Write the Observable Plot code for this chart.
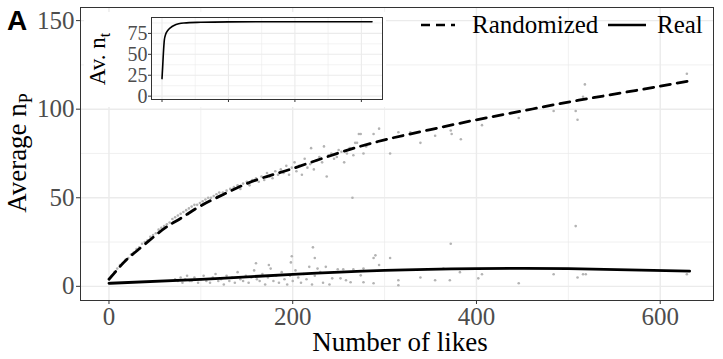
<!DOCTYPE html>
<html><head><meta charset="utf-8">
<script src="https://cdn.jsdelivr.net/npm/d3@7"></script>
<script src="https://cdn.jsdelivr.net/npm/@observablehq/plot@0.6"></script>
<style>
body{margin:0;background:#fff;}
#wrap{position:relative;width:723px;height:359px;}
#inset{position:absolute;left:84px;top:12px;}
</style></head>
<body><div id="wrap"><div id="main"></div><div id="inset"></div></div>
<script>
// ticks
const xTicks = [0, 200, 400, 600];
const xMinor = [100, 300, 500];
const yTicks = [0, 50, 100, 150];
const yMinor = [25, 75, 125];
const insetXTicks = [0, 1000, 2000, 3000];
const insetXMinor = [500, 1500, 2500];
const insetYTicks = [0, 25, 50, 75];
const insetYMinor = [12.5, 37.5, 62.5, 87.5];

// fitted curves
const randCurveX = [0,10,20,35,50,64,80,100,125,150,175,200,250,300,350,400,450,500,550,600,632];
const randCurveY = [4,10,15.5,22,28.5,34,39,45.5,52,58,62.5,66.5,75.3,82.7,88.5,94,99,104,108.5,113,116];
const realCurveX = [0,100,200,300,400,500,632];
const realCurveY = [1.7,3.9,6.8,9,10,10,8.6];

// inset curve
const insetX = [0,10,20,35,55,86,130,180,250,330,586,1000,2000,3160];
const insetY = [21,35,50,67,74,78.5,82,84.5,86.5,87.5,88.3,88.8,89,89];

// scatter: randomized
const randPts = [[3,6],[6,8],[9,10],[12,12],[15,13],[18,15],[21,16],[24,18],[27,19],[30,21],[33,22],[36,24],[39,25],[42,26],[45,28],[48,29],[51,30],[54,32],[57,33],[60,34],[63,35],[66,36],[69,38],[72,39],[75,40],[78,41],[81,42],[84,43],[87,44],[90,45],[93,46],[96,46],[99,47],[102,48],[105,49],[108,50],[111,50],[114,51],[117,52],[120,53],[124,53],[128,54],[132,55],[136,56],[140,57],[143,55],[146,58],[150,59],[153,57],[156,60],[160,61],[163,59],[166,62],[169,60],[172,64],[175,62],[178,61],[181,65],[184,63],[187,66],[190,64],[193,68],[196,63],[199,67],[202,70],[204,65],[207,68],[210,63],[213,72],[216,67],[219,69],[220,78],[223,66],[226,71],[229,73],[232,70],[234,79],[237,62],[239,74],[242,75],[245,72],[248,73],[250,77],[253,76],[256,70],[259,75],[262,78],[265,50],[266,74],[268,81],[270,81],[272,86],[274,86],[277,75],[280,79],[288,86],[294,89],[306,75],[315,87],[328,87],[339,81],[355,85],[372,88],[373,86],[383,83],[406,91],[446,95],[484,99],[508,99],[510,94],[516,107],[518,114],[629,120]];
// scatter: real
const realPts = [[72,4],[75,3],[78,5],[80,2],[83,4],[85,6],[88,3],[90,3],[93,5],[97,2],[100,4],[103,6],[106,3],[110,2],[113,5],[116,7],[119,3],[122,4],[125,1],[128,6],[131,3],[134,5],[137,2],[140,8],[143,4],[146,3],[149,6],[152,2],[155,5],[158,9],[160,13],[161,4],[164,3],[167,7],[170,1],[173,5],[174,12],[176,10],[179,3],[182,6],[185,2],[188,8],[191,4],[194,1],[197,6],[198,13.5],[199,17],[200,3],[203,9],[206,5],[209,2],[212,7],[215,4],[218,11],[221,1],[222,22],[224,6],[224,16],[227,10],[230,8],[233,2],[236,11],[240,1],[243,4.5],[249,9.6],[252,4.5],[255,9.6],[258,3.4],[263,2.3],[266,9.6],[274,6.2],[277,10],[277,2.3],[288,16],[288,1.7],[290,17.5],[294,12],[306,16],[315,3.4],[315,0.6],[339,5],[355,3.4],[364,10],[371,3.4],[372,24],[382,8],[402,4.5],[406,6.8],[446,1.7],[484,6.8],[508,34],[510,5],[516,6.8],[519,6.8],[629,6.8]];

const randCurve = randCurveX.map((x,i)=>({x, y: randCurveY[i]}));
const realCurve = realCurveX.map((x,i)=>({x, y: realCurveY[i]}));
const insetCurve = insetX.map((x,i)=>({x, y: insetY[i]}));
const rand = randPts.map(([x,y])=>({x,y}));
const real = realPts.map(([x,y])=>({x,y}));

const FONT = "Liberation Serif, Times New Roman, serif";
const GRID = "#ebebeb";

const chart = Plot.plot({
  width: 723, height: 359,
  marginLeft: 80, marginRight: 10, marginTop: 7, marginBottom: 59,
  x: {domain: [-31, 658]},
  y: {domain: [-8, 157.4]},
  style: {fontFamily: FONT, background: "white", overflow: "visible"},
  marks: [
    Plot.gridX(xMinor, {stroke: GRID, strokeOpacity: 1, strokeWidth: 0.7}),
    Plot.gridY(yMinor, {stroke: GRID, strokeOpacity: 1, strokeWidth: 0.7}),
    Plot.gridX(xTicks, {stroke: GRID, strokeOpacity: 1, strokeWidth: 1.4}),
    Plot.gridY(yTicks, {stroke: GRID, strokeOpacity: 1, strokeWidth: 1.4}),
    Plot.dot(rand, {x: "x", y: "y", r: 1.3, fill: "#b3b3b3"}),
    Plot.dot(real, {x: "x", y: "y", r: 1.3, fill: "#b3b3b3"}),
    Plot.line(randCurve, {x: "x", y: "y", stroke: "black", strokeWidth: 2.8, strokeDasharray: "10,7", curve: "natural"}),
    Plot.line(realCurve, {x: "x", y: "y", stroke: "black", strokeWidth: 2.8, curve: "natural"}),
    Plot.frame({stroke: "#333", strokeWidth: 1}),
    Plot.axisX(xTicks, {tickSize: 4, tickPadding: 3, fontSize: 25, stroke: "#333", fill: "#4d4d4d", label: null}),
    Plot.axisY(yTicks, {tickSize: 4, tickPadding: 2, fontSize: 25, stroke: "#333", fill: "#4d4d4d", label: null})
  ]
});
document.getElementById("main").appendChild(chart);

const svg = d3.select(chart);
// x label
svg.append("text").attr("x", 400).attr("y", 351).attr("text-anchor", "middle")
  .attr("font-family", FONT).attr("font-size", 27).attr("fill", "black").text("Number of likes");
// y label
const yl = svg.append("text").attr("transform", "translate(26,153) rotate(-90)").attr("text-anchor", "middle")
  .attr("font-family", FONT).attr("font-size", 27).attr("fill", "black");
yl.append("tspan").text("Average n");
yl.append("tspan").attr("dy", 6).attr("font-size", 18).text("P");
// panel tag
svg.append("text").attr("x", 7).attr("y", 30).attr("text-anchor", "start").attr("font-family", "Liberation Sans, Arial, sans-serif")
  .attr("font-weight", "bold").attr("font-size", 28).attr("fill", "black").text("A");
// legend
const lg = svg.append("g").attr("text-anchor", "start");
lg.append("line").attr("x1", 421).attr("x2", 455).attr("y1", 25).attr("y2", 25)
  .attr("stroke", "black").attr("stroke-width", 2.6).attr("stroke-dasharray", "9,6");
lg.append("text").attr("x", 472).attr("y", 33).attr("text-anchor", "start").attr("font-family", FONT).attr("font-size", 25).attr("fill", "black").text("Randomized");
lg.append("line").attr("x1", 608).attr("x2", 646).attr("y1", 25).attr("y2", 25)
  .attr("stroke", "black").attr("stroke-width", 2.6);
lg.append("text").attr("x", 657).attr("y", 33).attr("text-anchor", "start").attr("font-family", FONT).attr("font-size", 25).attr("fill", "black").text("Real");

// inset
const inset = Plot.plot({
  width: 302, height: 95,
  marginLeft: 67, marginRight: 4, marginTop: 5, marginBottom: 8,
  x: {domain: [-158, 3318]},
  y: {domain: [-4, 94]},
  style: {fontFamily: FONT, background: "white", overflow: "visible"},
  marks: [
    Plot.gridX(insetXMinor, {stroke: GRID, strokeOpacity: 1, strokeWidth: 0.6}),
    Plot.gridY(insetYMinor, {stroke: GRID, strokeOpacity: 1, strokeWidth: 0.6}),
    Plot.gridX(insetXTicks, {stroke: GRID, strokeOpacity: 1, strokeWidth: 1.1}),
    Plot.gridY(insetYTicks, {stroke: GRID, strokeOpacity: 1, strokeWidth: 1.1}),
    Plot.line(insetCurve, {x: "x", y: "y", stroke: "black", strokeWidth: 1.6, curve: "monotone-x"}),
    Plot.frame({stroke: "#333", strokeWidth: 1}),
    Plot.axisX(insetXTicks, {tickSize: 3, stroke: "#333", tickFormat: () => "", label: null}),
    Plot.axisY(insetYTicks, {tickSize: 3, tickPadding: 1, fontSize: 20, stroke: "#333", fill: "#4d4d4d", label: null})
  ]
});
document.getElementById("inset").appendChild(inset);
const il = d3.select(inset).append("text").attr("transform", "translate(21,47) rotate(-90)").attr("text-anchor", "middle")
  .attr("font-family", FONT).attr("font-size", 23).attr("fill", "black");
il.append("tspan").text("Av. n");
il.append("tspan").attr("dy", 5).attr("font-size", 16).text("t");
</script>
</body></html>
